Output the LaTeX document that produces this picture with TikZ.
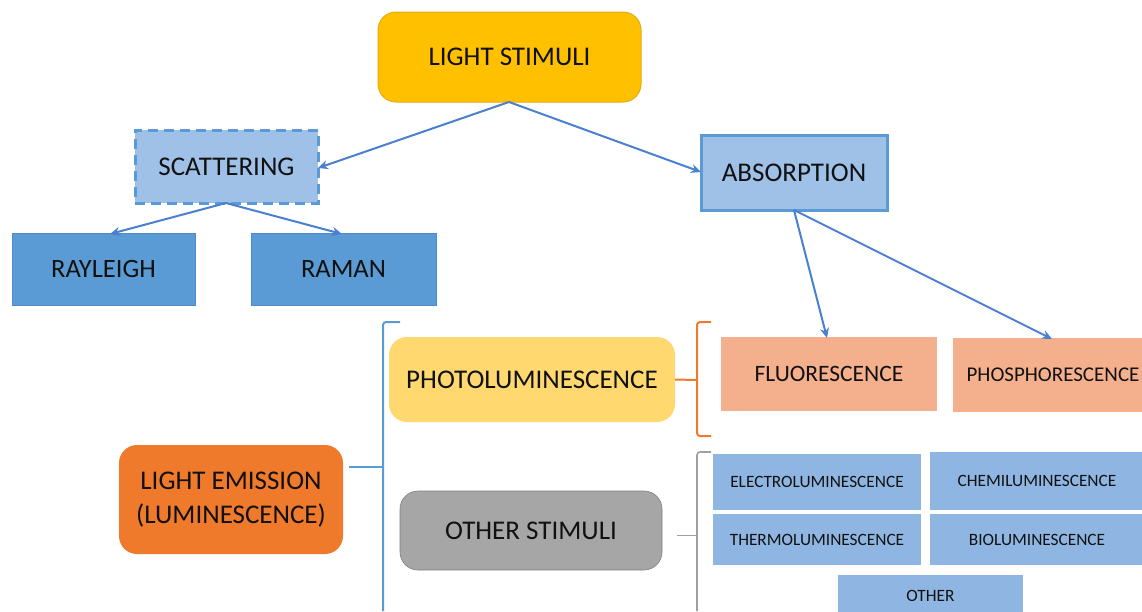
\documentclass[tikz,border=0pt]{standalone}
\usepackage{fontspec}
\setmainfont{Carlito}
\usetikzlibrary{arrows.meta}
\definecolor{gold}{HTML}{FFC000}
\definecolor{golddk}{HTML}{E3AC10}
\definecolor{lblue}{HTML}{9FC1E8}
\definecolor{edgeblue}{HTML}{5B9BD5}
\definecolor{mblue}{HTML}{5B9BD5}
\definecolor{mbluedk}{HTML}{4E8BCB}
\definecolor{sblue}{HTML}{8FB6E3}
\definecolor{lgold}{HTML}{FFD970}
\definecolor{salmon}{HTML}{F4B08C}
\definecolor{orng}{HTML}{F07A2C}
\definecolor{grey}{HTML}{A6A6A6}
\definecolor{linecol}{HTML}{4A80D0}
\definecolor{brkorange}{HTML}{F07A2C}
\definecolor{brkgrey}{HTML}{A0A0A0}
\definecolor{txt}{HTML}{111111}
\tikzset{
  box/.style={inner sep=0pt, align=center, text=txt, font=\fontsize{27}{31}\selectfont},
  rbox/.style={box, rounded corners=18pt},
  conn/.style={draw=linecol, line width=2pt, -{Stealth[length=10pt,width=9pt]}},
  brk/.style={line width=2pt},
}
\begin{document}
\begin{tikzpicture}[x=1pt,y=-1pt]
\useasboundingbox (0,0) rectangle (1142,611);
% nodes
\node[rbox, fill=gold, draw=golddk, line width=1pt, minimum width=263pt, minimum height=90pt] (stim) at (509.5,57) {LIGHT STIMULI};
\node[box, fill=lblue, draw=edgeblue, line width=3pt, dash pattern=on 10pt off 6pt, minimum width=183pt, minimum height=73pt] (scat) at (226.5,166.5) {SCATTERING};
\node[box, fill=lblue, draw=edgeblue, line width=3pt, minimum width=186pt, minimum height=75pt] (abs) at (794,172.5) {ABSORPTION};
\node[box, fill=mblue, draw=mbluedk, line width=1pt, minimum width=183pt, minimum height=72pt, font=\fontsize{26.5}{30}\selectfont] (ray) at (103.5,269) {RAYLEIGH};
\node[box, fill=mblue, draw=mbluedk, line width=1pt, minimum width=185pt, minimum height=72pt, font=\fontsize{26.5}{30}\selectfont] (ram) at (343.5,269) {RAMAN};
\node[rbox, fill=lgold, minimum width=286pt, minimum height=85pt] (photo) at (532,379.5) {PHOTOLUMINESCENCE};
\node[box, fill=salmon, minimum width=216pt, minimum height=74pt, font=\fontsize{23.5}{27}\selectfont] (fluo) at (829,374) {FLUORESCENCE};
\node[box, fill=salmon, minimum width=200pt, minimum height=74pt, anchor=west, font=\fontsize{21}{25}\selectfont] (phos) at (953,375) {};
\node[box, font=\fontsize{21}{25}\selectfont] (phost) at (1053,375) {PHOSPHORESCENCE};
\node[rbox, fill=orng, minimum width=224pt, minimum height=109pt, font=\fontsize{27}{34}\selectfont] (emis) at (231,499.5) {LIGHT EMISSION\\(LUMINESCENCE)};
\node[rbox, fill=grey, draw=brkgrey!80!black, line width=0.6pt, minimum width=262pt, minimum height=79pt] (other) at (531,530.5) {OTHER STIMULI};
\node[box, fill=sblue, minimum width=208pt, minimum height=56pt, font=\fontsize{17.3}{20}\selectfont] (elec) at (817,482) {ELECTROLUMINESCENCE};
\node[box, fill=sblue, minimum width=212pt, minimum height=58pt, anchor=west, font=\fontsize{17.3}{20}\selectfont] (chem) at (930,481) {};
\node[box, font=\fontsize{17.3}{20}\selectfont] (chemt) at (1037,481) {CHEMILUMINESCENCE};
\node[box, fill=sblue, minimum width=208pt, minimum height=51pt, font=\fontsize{17.3}{20}\selectfont] (therm) at (817,539.5) {THERMOLUMINESCENCE};
\node[box, fill=sblue, minimum width=212pt, minimum height=51pt, anchor=west, font=\fontsize{17.3}{20}\selectfont] (bio) at (930,539.5) {};
\node[box, font=\fontsize{17.3}{20}\selectfont] (biot) at (1037,539.5) {BIOLUMINESCENCE};
\node[box, fill=sblue, minimum width=185pt, minimum height=50pt, anchor=north, font=\fontsize{17.3}{20}\selectfont] (oth) at (930.5,575) {};
\node[box, font=\fontsize{17.3}{20}\selectfont] (otht) at (930.5,596) {OTHER};
% connectors
\coordinate (sb) at (509,102);
\coordinate (sbot) at (226,203);
\coordinate (abot) at (794,210);
\draw[conn] (sb) -- (318,168);
\draw[conn] (sb) -- (701,172);
\draw[conn] (sbot) -- (110,234);
\draw[conn] (sbot) -- (342,234);
\draw[conn] (abot) -- (827,338);
\draw[conn] (abot) -- (1052,339);
% brackets
\coordinate (bt) at (400,322);
\coordinate (bm) at (383,467);
\coordinate (bb) at (383,611);
\draw[brk, draw=edgeblue] (bt) -- (386,322) to[out=180,in=90] (383,325) -- (bb);
\draw[brk, draw=edgeblue] (emis.east |- bm) ++(6,0) -- (bm);
\coordinate (ot) at (711,322);
\coordinate (ob) at (711,436);
\draw[brk, draw=brkorange] (ot) -- (700,322) to[out=180,in=90] (697,325) -- (697,433) to[out=-90,in=180] (700,436) -- (ob);
\draw[brk, draw=brkorange] (photo.east) -- (697,380);
\coordinate (gt) at (711,452);
\draw[brk, draw=brkgrey, line width=1.6pt] (gt) -- (700,452) to[out=180,in=90] (697,455) -- (697,611);
\draw[brk, draw=brkgrey, line width=1.6pt] (other.east) ++(15,5) -- (697,535.5);
\end{tikzpicture}
\end{document}
